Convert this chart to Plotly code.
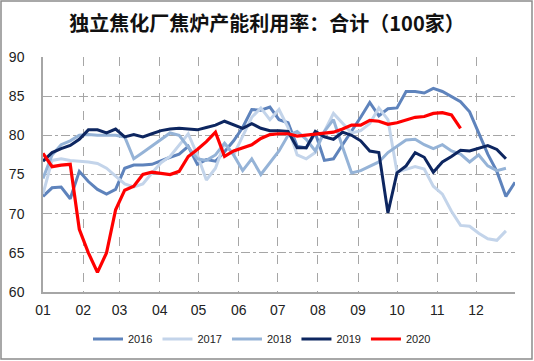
import plotly.graph_objects as go
import pandas as pd

# ---- data (weekly capacity utilisation, %) ----
years = ["2016", "2017", "2018", "2019", "2020"]
colors = ["#5E83BC", "#C3D4EA", "#95B3D7", "#0D2660", "#FF0000"]

v2016 = [72.2, 73.3, 73.4, 71.9, 75.4, 74.1, 73.1, 72.5, 73.1, 75.8, 76.2, 76.2, 76.3,
         76.8, 77.2, 77.6, 78.6, 76.3, 76.9, 76.7, 77.9, 79.3, 81.0, 83.3, 83.2, 83.6,
         82.0, 81.6, 78.6, 78.4, 80.3, 76.8, 77.0, 78.8, 80.5, 82.3, 84.2, 82.5, 83.4,
         83.5, 85.6, 85.6, 85.4, 86.0, 85.6, 85.0, 84.3, 83.0, 80.3, 77.6, 75.4, 72.2, 74.0]
v2017 = [72.5, 76.8, 77.0, 76.8, 76.7, 76.6, 76.4, 75.8, 74.8, 73.8, 73.4, 73.8, 75.2,
         76.5, 77.3, 78.7, 80.2, 77.5, 74.3, 75.8, 79.0, 77.5, 80.0, 82.3, 83.5, 82.0,
         83.3, 81.0, 77.5, 77.0, 77.8, 80.5, 82.8, 81.5, 80.3, 80.6, 81.5, 83.5, 82.0,
         75.3, 75.7, 76.0, 75.7, 73.5, 72.5, 70.3, 68.5, 68.4, 67.5, 66.8, 66.6, 67.8]
v2018 = [74.5, 77.5, 78.8, 79.3, 80.0, 80.1, 80.0, 80.0, 80.0, 79.8, 77.0, 77.8, 78.6,
         79.4, 80.3, 80.0, 78.5, 77.0, 76.8, 77.5, 79.0, 77.5, 75.5, 77.0, 75.0, 76.5,
         78.0, 80.0, 80.5, 79.5, 78.0, 80.5, 82.0, 78.5, 75.2, 75.5, 76.0, 76.6, 77.8,
         78.6, 79.4, 79.5, 78.8, 78.3, 78.8, 78.0, 77.6, 76.6, 77.5, 76.1, 75.5, 75.8]
v2019 = [76.7, 77.8, 78.3, 78.7, 79.5, 80.7, 80.7, 80.3, 80.8, 79.8, 80.1, 79.8, 80.2,
         80.6, 80.8, 80.9, 80.8, 80.7, 81.0, 81.3, 81.8, 81.4, 80.9, 81.5, 80.9, 80.6,
         80.6, 80.5, 78.4, 78.4, 80.5, 79.8, 79.5, 80.4, 80.0, 79.3, 78.0, 77.8, 70.1,
         75.2, 76.1, 77.8, 77.2, 75.3, 76.6, 77.3, 78.1, 78.0, 78.4, 78.7, 78.2, 77.0]
v2020 = [77.7, 76.0, 76.2, 76.3, 68.0, 65.0, 62.5, 65.0, 70.5, 73.0, 73.5, 75.0, 75.3,
         75.2, 75.0, 75.4, 77.3, 78.2, 79.2, 80.4, 77.3, 78.0, 78.4, 78.8, 79.6, 80.1,
         80.2, 80.2, 79.9, 80.0, 80.1, 80.3, 80.4, 80.8, 81.3, 81.3, 81.9, 81.8, 81.4,
         81.6, 82.0, 82.3, 82.4, 82.8, 82.9, 82.6, 80.9]
series = [v2016, v2017, v2018, v2019, v2020]

month_ticks = ["2021-%02d-01" % m for m in range(1, 13)]
month_labels = ["%02d" % m for m in range(1, 13)]
week_dates = pd.date_range("2021-01-01", periods=53, freq="7D")

title = "独立焦化厂焦炉产能利用率：合计（100家）"

fig = go.Figure()
for name, col, vals in zip(years, colors, series):
    fig.add_trace(go.Scatter(
        x=week_dates[:len(vals)], y=vals, name=name, mode="lines",
        line=dict(color=col, width=3.2 if name == "2020" else 3),
    ))

W, H = 534, 361
ml, mr, mt, mb = 43, 19, 57, 69
pw, ph = W - ml - mr, H - mt - mb

fig.update_layout(
    width=W, height=H,
    margin=dict(l=ml, r=mr, t=mt, b=mb, autoexpand=False),
    paper_bgcolor="white", plot_bgcolor="white",
    font=dict(family="Noto Sans CJK SC, Noto Sans, sans-serif", color="#222222"),
    title=dict(text="<b>" + title + "</b>", x=0.5, xanchor="center", y=1 - 24 / H,
               yanchor="middle", font=dict(size=20, color="#111111")),
    showlegend=True,
    legend=dict(orientation="h", x=(262 - ml) / pw, xanchor="center",
                y=-(339 - (mt + ph)) / ph, yanchor="middle",
                font=dict(size=11, color="#222222",
                          family="Liberation Sans, Arial, sans-serif"),
                itemwidth=30, tracegroupgap=0, bgcolor="rgba(0,0,0,0)"),
    shapes=[dict(type="rect", xref="paper", yref="paper",
                 x0=(1 - ml) / pw, x1=(W - 2 - ml) / pw,
                 y0=(mt + ph - (H - 2)) / ph, y1=(mt + ph - 1) / ph,
                 line=dict(color="#8C8C8C", width=1.5), fillcolor="rgba(0,0,0,0)",
                 layer="below")],
)
fig.update_xaxes(
    type="date", range=["2021-01-01", "2021-12-31"],
    tickvals=month_ticks, ticktext=month_labels, automargin=False,
    showgrid=True, gridcolor="#A6A6A6", griddash="dash", gridwidth=1,
    showline=True, linecolor="#A6A6A6", linewidth=1.5,
    ticks="", tickfont=dict(size=14, family="Liberation Sans, Arial, sans-serif", color="#222222"),
    ticklabelstandoff=4,
)
fig.update_yaxes(
    range=[60, 90], dtick=5, tick0=60, automargin=False,
    showgrid=True, gridcolor="#A6A6A6", griddash="dashdot", gridwidth=1,
    showline=True, linecolor="#A6A6A6", linewidth=1.5, zeroline=False,
    ticks="", tickfont=dict(size=14, family="Liberation Sans, Arial, sans-serif", color="#222222"),
    ticklabelstandoff=14,
)

fig.write_html("out.html", config={"displayModeBar": False},
               post_script="document.body.style.margin='0';")
